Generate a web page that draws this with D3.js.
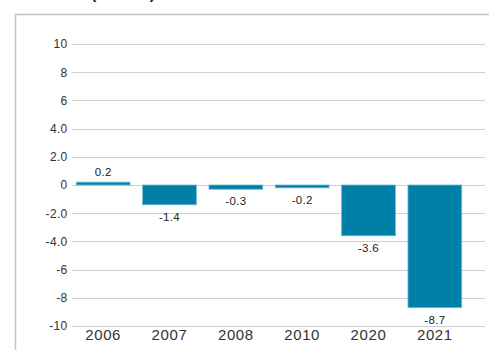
<!DOCTYPE html>
<html>
<head>
<meta charset="utf-8">
<script src="https://cdn.jsdelivr.net/npm/d3@7"></script>
<style>
  html, body { margin: 0; padding: 0; background: #fff; }
  svg { display: block; font-family: Arial, "Liberation Sans", sans-serif; }
</style>
</head>
<body>
<svg id="chart" width="489" height="350"></svg>
<script>
// Budget balance by year
const years = ["2006", "2007", "2008", "2010", "2020", "2021"];
const values = [0.2, -1.4, -0.3, -0.2, -3.6, -8.7];
const valueLabels = ["0.2", "-1.4", "-0.3", "-0.2", "-3.6", "-8.7"];
const tickValues = [10, 8, 6, 4, 2, 0, -2, -4, -6, -8, -10];
const tickLabels = ["10", "8", "6", "4.0", "2.0", "0", "-2.0", "-4.0", "-6", "-8", "-10"];
const title = "(% GDP)";

const svg = d3.select("#chart");
const W = 489, H = 350;

const x = d3.scaleBand().domain(years).range([70, 468]).paddingInner(0.19).paddingOuter(0.095);
const y = d3.scaleLinear().domain([-10, 10]).range([326, 44]);

// Title, sitting above the top of the panel
svg.append("text")
  .attr("x", 91).attr("y", -1)
  .attr("font-size", 16).attr("font-weight", "bold").attr("fill", "#222")
  .text(title);

// Panel frame (top and left edges)
svg.append("path")
  .attr("d", `M15.5,${H} V14.5 H${W}`)
  .attr("fill", "none").attr("stroke", "#c4c4c4").attr("stroke-width", 1.5);

// Y labels via axis
const yAxis = d3.axisLeft(y)
  .tickValues(tickValues)
  .tickSize(0)
  .tickPadding(0)
  .tickFormat((d, i) => tickLabels[i]);

const gy = svg.append("g").attr("transform", "translate(67.5,0)").call(yAxis);
gy.select(".domain").remove();
gy.selectAll("text")
  .attr("font-size", 12).attr("letter-spacing", 0.3)
  .attr("fill", "#333").attr("font-family", "Arial, 'Liberation Sans', sans-serif");

// Gridlines
svg.append("g").selectAll("line")
  .data(tickValues).join("line")
  .attr("x1", 72).attr("x2", 485)
  .attr("y1", d => Math.round(y(d)) + 0.5).attr("y2", d => Math.round(y(d)) + 0.5)
  .attr("stroke", "#cfcfcf").attr("stroke-width", 1);

// Bars
svg.append("g").selectAll("rect")
  .data(values).join("rect")
  .attr("x", (d, i) => x(years[i]))
  .attr("width", x.bandwidth())
  .attr("y", d => Math.min(y(d), y(0)))
  .attr("height", d => Math.abs(y(d) - y(0)))
  .attr("fill", "#007fa7")
  .attr("stroke", "#6bb8d3").attr("stroke-width", 0.8);

// Value labels
svg.append("g").selectAll("text")
  .data(values).join("text")
  .attr("x", (d, i) => x(years[i]) + x.bandwidth() / 2)
  .attr("y", d => d >= 0 ? y(d) - 6 : y(d) + 16)
  .attr("text-anchor", "middle")
  .attr("font-size", 11.5).attr("letter-spacing", 0.3).attr("fill", "#222")
  .text((d, i) => valueLabels[i]);

// Category axis
const xAxis = d3.axisBottom(x).tickSize(0).tickPadding(0);
const gx = svg.append("g").attr("transform", "translate(0,327)").call(xAxis);
gx.select(".domain").remove();
gx.selectAll("text")
  .attr("dy", "0.85em")
  .attr("font-size", 15).attr("letter-spacing", 0.6)
  .attr("fill", "#333").attr("font-family", "Arial, 'Liberation Sans', sans-serif");
</script>
</body>
</html>
